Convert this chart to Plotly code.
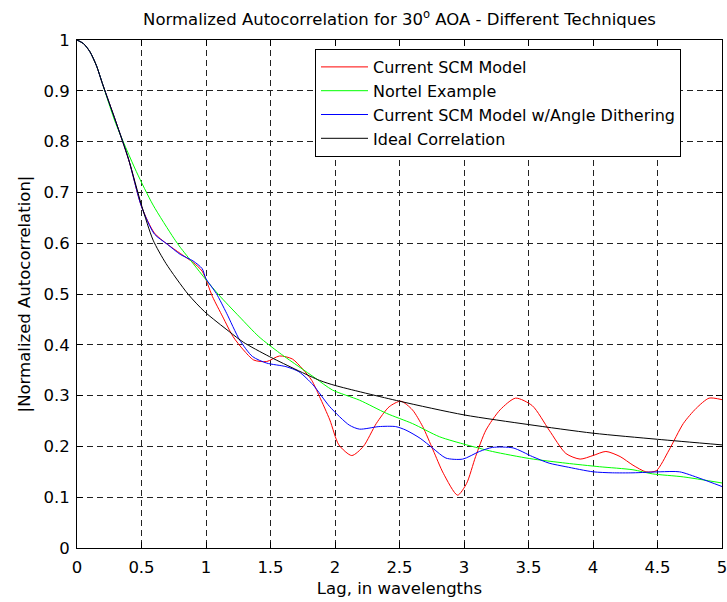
import plotly.graph_objects as go

# ---- data ----
lag_red = [0, 0.05, 0.1, 0.15, 0.2, 0.3, 0.4, 0.5, 0.6, 0.7, 0.8, 0.9, 0.97, 1.05, 1.13, 1.21,
           1.29, 1.37, 1.47, 1.57, 1.67, 1.75, 1.82, 1.88, 1.96, 2.03, 2.13, 2.22, 2.32,
           2.42, 2.51, 2.60, 2.68, 2.76, 2.84, 2.95, 3.02, 3.09, 3.17, 3.28, 3.40, 3.53,
           3.66, 3.79, 3.90, 4.0, 4.10, 4.21, 4.31, 4.41, 4.49, 4.59, 4.70, 4.80, 4.90, 5.0]
corr_red = [1.0, 0.993, 0.977, 0.95, 0.912, 0.84, 0.765, 0.672, 0.62, 0.598, 0.58, 0.562,
            0.545, 0.495, 0.455, 0.416, 0.39, 0.37, 0.367, 0.378, 0.372, 0.352, 0.33, 0.298,
            0.252, 0.203, 0.182, 0.2, 0.245, 0.278, 0.289, 0.272, 0.239, 0.193, 0.147, 0.104,
            0.127, 0.18, 0.232, 0.272, 0.295, 0.28, 0.232, 0.186, 0.175, 0.182, 0.19, 0.18,
            0.163, 0.15, 0.152, 0.193, 0.245, 0.275, 0.295, 0.292]

lag_green = [0, 0.05, 0.1, 0.15, 0.2, 0.3, 0.46, 0.59, 0.75, 0.8, 0.9, 1.0, 1.1, 1.26, 1.41,
             1.57, 1.72, 1.85, 1.98, 2.19, 2.40, 2.60, 2.81, 3.02, 3.22, 3.51, 3.79, 4.05,
             4.31, 4.46, 4.70, 5.0]
corr_green = [1.0, 0.993, 0.977, 0.95, 0.912, 0.836, 0.741, 0.675, 0.61, 0.592, 0.56, 0.528,
              0.498, 0.455, 0.416, 0.384, 0.357, 0.334, 0.311, 0.291, 0.265, 0.245, 0.219,
              0.203, 0.19, 0.176, 0.167, 0.16, 0.154, 0.146, 0.14, 0.128]

lag_blue = [0, 0.05, 0.1, 0.15, 0.2, 0.3, 0.4, 0.5, 0.6, 0.7, 0.8, 0.9, 0.97, 1.0, 1.08, 1.16,
            1.26, 1.36, 1.47, 1.62, 1.72, 1.83, 1.96, 2.11, 2.19, 2.34, 2.47, 2.55, 2.66,
            2.76, 2.86, 2.99, 3.12, 3.22, 3.38, 3.53, 3.66, 3.79, 4.0, 4.15, 4.31, 4.52,
            4.67, 4.83, 5.0]
corr_blue = [1.0, 0.993, 0.977, 0.95, 0.912, 0.84, 0.765, 0.672, 0.618, 0.598, 0.578, 0.565,
             0.55, 0.53, 0.501, 0.462, 0.41, 0.377, 0.364, 0.357, 0.347, 0.321, 0.278, 0.242,
             0.234, 0.239, 0.239, 0.232, 0.216, 0.196, 0.177, 0.175, 0.19, 0.198, 0.197,
             0.18, 0.167, 0.16, 0.15, 0.148, 0.148, 0.15, 0.15, 0.137, 0.121]

lag_black = [0, 0.05, 0.1, 0.15, 0.2, 0.3, 0.4, 0.5, 0.59, 0.69, 0.86, 0.99, 1.18, 1.29, 1.49,
             1.88, 2.0, 2.5, 3.0, 3.5, 4.0, 4.5, 5.0]
corr_black = [1.0, 0.993, 0.977, 0.95, 0.912, 0.84, 0.765, 0.675, 0.606, 0.56, 0.5, 0.465,
              0.426, 0.405, 0.377, 0.33, 0.32, 0.289, 0.262, 0.243, 0.226, 0.214, 0.203]

series_names = ["Current SCM Model", "Nortel Example",
                "Current SCM Model w/Angle Dithering", "Ideal Correlation"]
series_colors = ["#ff0000", "#00ff00", "#0000ff", "#000000"]

x_ticks = [0, 0.5, 1, 1.5, 2, 2.5, 3, 3.5, 4, 4.5, 5]
x_tick_labels = ["0", "0.5", "1", "1.5", "2", "2.5", "3", "3.5", "4", "4.5", "5"]
y_ticks = [0, 0.1, 0.2, 0.3, 0.4, 0.5, 0.6, 0.7, 0.8, 0.9, 1]
y_tick_labels = ["0", "0.1", "0.2", "0.3", "0.4", "0.5", "0.6", "0.7", "0.8", "0.9", "1"]

FONT = "DejaVu Sans, Liberation Sans, Arial, sans-serif"
FS = 16.5

fig = go.Figure()
for xs, ys, name, col in zip([lag_red, lag_green, lag_blue, lag_black],
                             [corr_red, corr_green, corr_blue, corr_black],
                             series_names, series_colors):
    fig.add_trace(go.Scatter(x=xs, y=ys, mode="lines", name=name,
                             line=dict(color=col, width=1, shape="spline", smoothing=0.7)))

axis_common = dict(showline=True, linecolor="black", linewidth=1, mirror="ticks",
                   ticks="inside", ticklen=6, tickcolor="black", tickwidth=1,
                   showgrid=True, gridcolor="#222222", gridwidth=1, griddash="6px,4px",
                   zeroline=False, automargin=False, ticklabeloverflow="allow",
                   tickfont=dict(size=FS, family=FONT, color="black"))

fig.update_layout(
    width=727, height=602,
    margin=dict(l=77, r=5, t=40, b=54),
    paper_bgcolor="white", plot_bgcolor="white",
    font=dict(family=FONT, size=FS, color="black"),
    title=dict(text="Normalized Autocorrelation for 30<sup>o</sup> AOA - Different Techniques",
               x=0.5, xref="paper", xanchor="center",
               y=1 - 19 / 602, yref="container", yanchor="middle",
               font=dict(size=FS, family=FONT, color="black")),
    xaxis=dict(range=[0, 5], tickvals=x_ticks, ticktext=x_tick_labels,
               ticklabelstandoff=4,
               title=dict(text="Lag, in wavelengths", standoff=6,
                          font=dict(size=FS, family=FONT)),
               **axis_common),
    yaxis=dict(range=[0, 1], tickvals=y_ticks, ticktext=y_tick_labels,
               ticklabelstandoff=3,
               title=dict(text="|Normalized Autocorrelation|", standoff=8,
                          font=dict(size=FS, family=FONT)),
               **axis_common),
    legend=dict(x=(315 - 77) / 645, y=(548 - 49) / 508, xanchor="left", yanchor="top",
                bgcolor="white", bordercolor="black", borderwidth=1,
                font=dict(size=16, family=FONT, color="black"),
                itemwidth=47, tracegroupgap=0),
    showlegend=True,
    hovermode=False,
)

fig.write_html("out.html", config={"displayModeBar": False})
